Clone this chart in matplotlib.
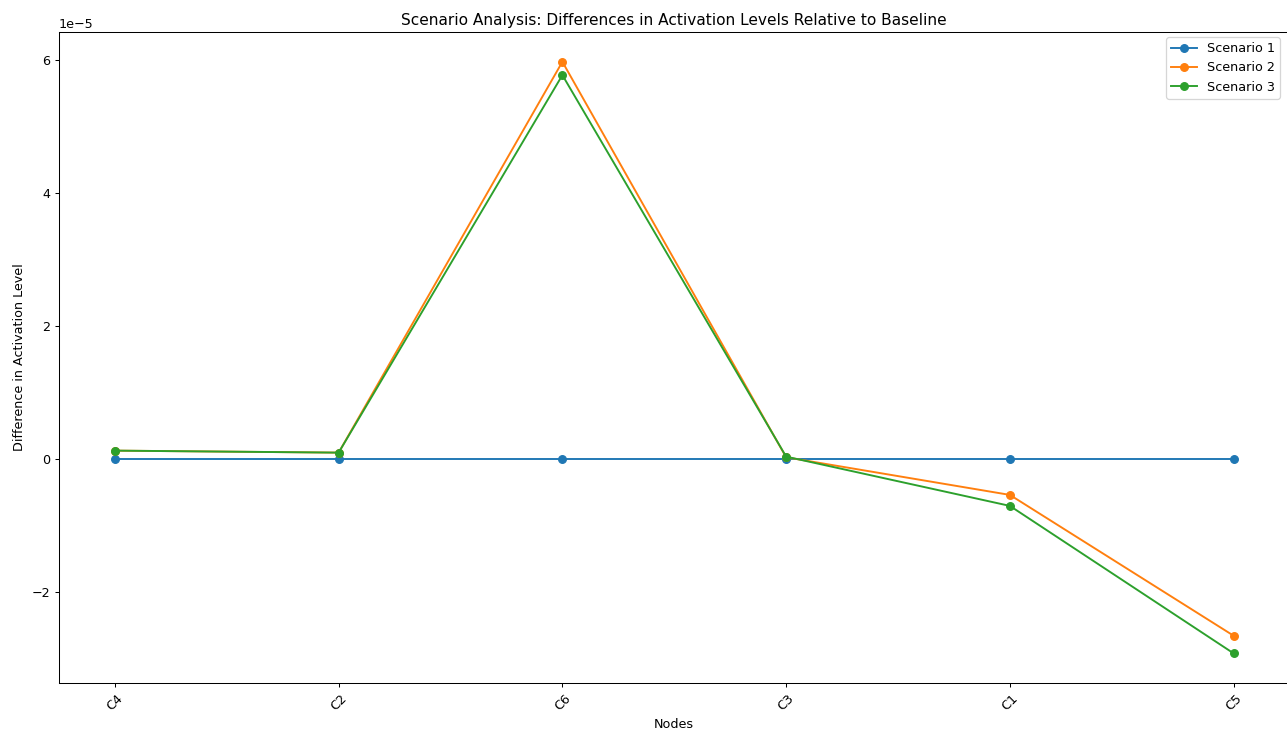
import numpy as np
import matplotlib
matplotlib.use('Agg')
import matplotlib.pyplot as plt

nodes = ['C4', 'C2', 'C6', 'C3', 'C1', 'C5']

# difference from baseline activation, per scenario
scenario_1 = [0.0, 0.0, 0.0, 0.0, 0.0, 0.0]
scenario_2 = [1.3e-6, 1.0e-6, 5.97e-5, 3.0e-7, -5.35e-6, -2.65e-5]
scenario_3 = [1.3e-6, 1.0e-6, 5.77e-5, 4.0e-7, -7.0e-6, -2.915e-5]

DPI = 1287 / 14
fig, ax = plt.subplots(figsize=(14, 732 / DPI), dpi=DPI)
ax.plot(nodes, scenario_1, marker='o', label='Scenario 1')
ax.plot(nodes, scenario_2, marker='o', label='Scenario 2')
ax.plot(nodes, scenario_3, marker='o', label='Scenario 3')

ax.set_title('Scenario Analysis: Differences in Activation Levels Relative to Baseline')
ax.set_xlabel('Nodes')
ax.set_ylabel('Difference in Activation Level')
ax.legend(loc='upper right', bbox_to_anchor=(1280 / 1287, 1 - 37 / 732),
          bbox_transform=fig.transFigure, borderaxespad=0)
plt.xticks(rotation=45)
# right spine sits just past the edge of the canvas
fig.subplots_adjust(left=0.0458, right=1.002, top=0.956, bottom=0.067)
fig.savefig('out.png', dpi=DPI)
